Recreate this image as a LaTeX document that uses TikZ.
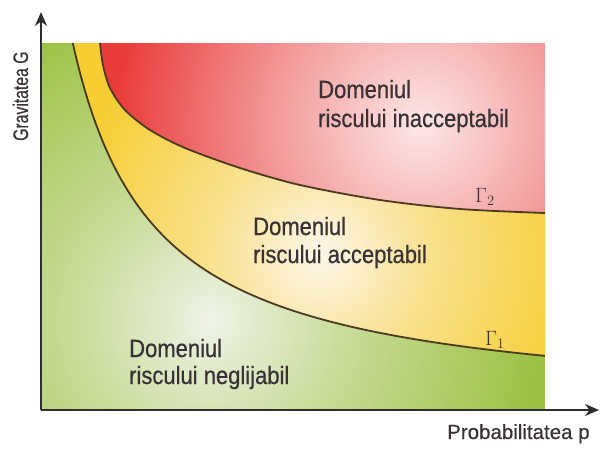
\documentclass[tikz,border=0pt]{standalone}
\usepackage{fontspec}
\setmainfont{Liberation Sans}
\newfontfamily\regfont[FakeStretch=0.88,FakeBold=0.6]{Liberation Sans}
\newfontfamily\axfont[FakeStretch=0.75,FakeBold=0.4]{Liberation Sans}
\newfontfamily\axfontb[FakeStretch=1.0,FakeBold=0.4]{Liberation Sans}
\usetikzlibrary{arrows.meta}
\definecolor{gstrong}{HTML}{9CC243}
\definecolor{gpale}{HTML}{EFF3E8}
\definecolor{gmid}{HTML}{C9DC9A}
\definecolor{ystrong}{HTML}{F6CE33}
\definecolor{ymid}{HTML}{F9E08A}
\definecolor{ypale}{HTML}{FDF6E9}
\definecolor{rstrong}{HTML}{EB3B3B}
\definecolor{rmid}{HTML}{F39A9A}
\definecolor{rpale}{HTML}{FDE7E7}
\definecolor{axiscol}{HTML}{2E2E2E}
\definecolor{curvecol}{HTML}{4A3A22}
\definecolor{txtcol}{HTML}{383236}
\pgfdeclareradialshading{gshade}{\pgfpoint{0bp}{0bp}}{color(0bp)=(gpale); color(10bp)=(gmid); color(25bp)=(gstrong); color(50bp)=(gstrong)}
\pgfdeclareradialshading{yshade}{\pgfpoint{0bp}{0bp}}{color(0bp)=(ypale); color(11bp)=(ymid); color(25bp)=(ystrong); color(50bp)=(ystrong)}
\pgfdeclareradialshading{rshade}{\pgfpoint{0bp}{0bp}}{color(0bp)=(rpale); color(12bp)=(rmid); color(25bp)=(rstrong); color(50bp)=(rstrong)}
\tikzset{
  axisline/.style={draw=axiscol, line width=2pt, -{Stealth[length=14pt, width=12pt]}},
  curveline/.style={draw=curvecol, line width=1.8pt},
  regtext/.style={anchor=base west, inner sep=0pt, text=txtcol, font=\regfont\fontsize{25}{29}\selectfont},
  gammatext/.style={anchor=base west, inner sep=0pt, text=txtcol, font=\fontsize{21}{24}\selectfont},
  gonestyle/.style={domain=72.75:545, samples=120, variable=\t},
}
\begin{document}
\begin{tikzpicture}[x=1pt, y=-1pt]
\useasboundingbox (0,0) rectangle (600,450);
\fill[white] (0,0) rectangle (600,450);
% green region
\begin{scope}
  \clip (41,410) -- (41,43) -- plot[gonestyle] (\t, {410-100*(300/(\t+9))}) -- (545,410) -- cycle;
  \fill[gstrong] (41,43) rectangle (545,410);
  \shade[shading=gshade] (210,320) circle (330);
\end{scope}
% yellow region
\begin{scope}
  \clip plot[gonestyle] (\t, {410-100*(300/(\t+9))}) -- plot[smooth] coordinates {(545,213) (460,209) (380,200) (300,185) (240,168) (185,148) (150,130) (125,110) (110,88) (103,65) (100,43)} -- cycle;
  \fill[ystrong] (41,43) rectangle (545,410);
  \shade[shading=yshade] (320,255) circle (260);
\end{scope}
% red region
\begin{scope}
  \clip plot[smooth] coordinates {(100,43) (103,65) (110,88) (125,110) (150,130) (185,148) (240,168) (300,185) (380,200) (460,209) (545,213)} -- (545,43) -- cycle;
  \fill[rstrong] (41,43) rectangle (545,410);
  \shade[shading=rshade] (420,125) circle (305);
\end{scope}
% curves
\draw[curveline] plot[gonestyle] (\t, {410-100*(300/(\t+9))});
\draw[curveline] plot[smooth] coordinates {(100,43) (103,65) (110,88) (125,110) (150,130) (185,148) (240,168) (300,185) (380,200) (460,209) (545,213)};
% axes
\coordinate (O) at (41,410);
\coordinate (ytip) at (41,12);
\coordinate (xtip) at (599,410);
\draw[axisline] (O) -- (ytip);
\draw[axisline] (O) -- (xtip);
% labels
\node[anchor=base west, inner sep=0pt, rotate=90, text=txtcol, font=\axfont\fontsize{21}{24}\selectfont] (ylab) at (28,141) {Gravitatea G};
\node[anchor=base west, inner sep=0pt, text=txtcol, font=\axfontb\fontsize{20.5}{24}\selectfont] (xlab) at (447,439) {Probabilitatea p};
\node[regtext] (r1a) at (318,98) {Domeniul};
\node[regtext] (r1b) at (318,127) {riscului inacceptabil};
\node[regtext] (r2a) at (253,235) {Domeniul};
\node[regtext] (r2b) at (253,263) {riscului acceptabil};
\node[regtext] (r3a) at (129,357) {Domeniul};
\node[regtext] (r3b) at (129,384) {riscului neglijabil};
\node[gammatext] (g2) at (475,202) {$\Gamma_2$};
\node[gammatext] (g1) at (485,345) {$\Gamma_1$};
\end{tikzpicture}
\end{document}
